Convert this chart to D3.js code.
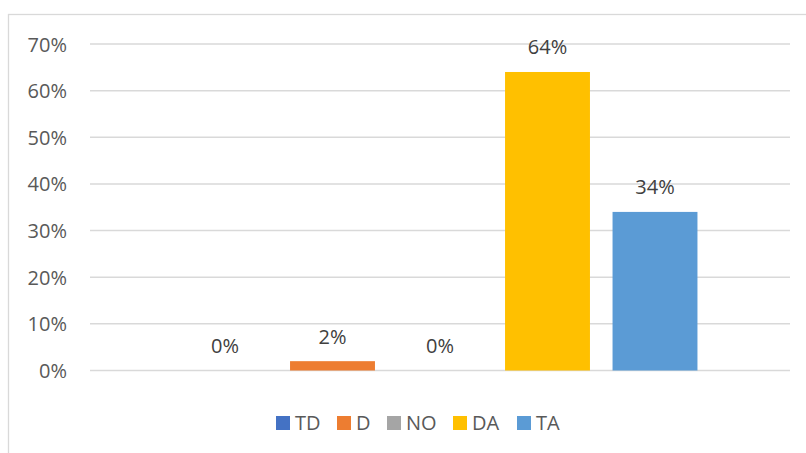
<!DOCTYPE html>
<html>
<head>
<meta charset="utf-8">
<script src="https://cdn.jsdelivr.net/npm/d3@7"></script>
<style>
	body { margin: 0; background: #fff; }
	svg text { font-family: "Open Sans", sans-serif; }
</style>
</head>
<body>
<div id="chart"></div>
<script>
// Data
const seriesNames = ["TD", "D", "NO", "DA", "TA"];
const seriesValues = [0, 2, 0, 64, 34];
const seriesColors = ["#4472C4", "#ED7D31", "#A5A5A5", "#FFC000", "#5B9BD5"];
const yTicks = [0, 10, 20, 30, 40, 50, 60, 70];

const width = 806,
			height = 453;

const svg = d3.select("#chart").append("svg")
		.attr("width", width)
		.attr("height", height);

// Chart border
svg.append("rect")
		.attr("x", 8.5)
		.attr("y", 14.5)
		.attr("width", 820)
		.attr("height", 460)
		.attr("fill", "none")
		.attr("stroke", "#d9d9d9")
		.attr("stroke-width", 1.3);

// Plot area
const plot = { left: 90, right: 790, top: 44, bottom: 370.5 };

const y = d3.scaleLinear()
		.domain([0, 70])
		.range([plot.bottom, plot.top]);

// single category, series clustered around its center
const cx = (plot.left + plot.right) / 2;
const step = 107.5;
const x = d3.scaleBand()
		.domain(seriesNames)
		.range([cx - step * seriesNames.length / 2, cx + step * seriesNames.length / 2])
		.paddingInner(0.21)
		.paddingOuter(0.105);

// Gridlines
svg.append("g")
	.selectAll("line")
	.data(yTicks)
	.enter().append("line")
		.attr("x1", plot.left)
		.attr("x2", plot.right)
		.attr("y1", d => y(d))
		.attr("y2", d => y(d))
		.attr("stroke", "#d9d9d9")
		.attr("stroke-width", 1.5);

// Y axis labels
const yAxis = svg.append("g")
		.attr("transform", `translate(${plot.left - 23},0)`)
		.call(d3.axisLeft(y).tickValues(yTicks).tickSize(0).tickFormat(d => d + "%"));
yAxis.select(".domain").remove();
yAxis.selectAll("text")
		.attr("x", 0)
		.attr("dy", "0.35em")
		.style("font-family", "'Open Sans', sans-serif")
		.style("font-size", "20px")
		.attr("fill", "#595959");

// Bars
const data = seriesNames.map((name, i) => ({ name: name, value: seriesValues[i], color: seriesColors[i] }));

svg.append("g")
	.selectAll("rect")
	.data(data)
	.enter().append("rect")
		.attr("x", d => x(d.name))
		.attr("y", d => y(d.value))
		.attr("width", x.bandwidth())
		.attr("height", d => y(0) - y(d.value))
		.attr("fill", d => d.color);

// Data labels
svg.append("g")
	.selectAll("text")
	.data(data)
	.enter().append("text")
		.attr("x", d => x(d.name) + x.bandwidth() / 2)
		.attr("y", d => y(d.value) - 24.5)
		.attr("text-anchor", "middle")
		.attr("dy", "0.35em")
		.style("font-size", "20px")
		.attr("fill", "#404040")
		.text(d => d.value + "%");

// Legend
const legendX = [276, 337, 387, 453, 517];
const legend = svg.append("g")
	.selectAll("g")
	.data(data)
	.enter().append("g")
		.attr("transform", (d, i) => `translate(${legendX[i]}, 416)`);
legend.append("rect")
		.attr("width", 14)
		.attr("height", 14)
		.attr("fill", d => d.color);
legend.append("text")
		.attr("x", 19)
		.attr("y", 7)
		.attr("dy", "0.35em")
		.style("font-size", "20px")
		.attr("fill", "#595959")
		.text(d => d.name);
</script>
</body>
</html>
